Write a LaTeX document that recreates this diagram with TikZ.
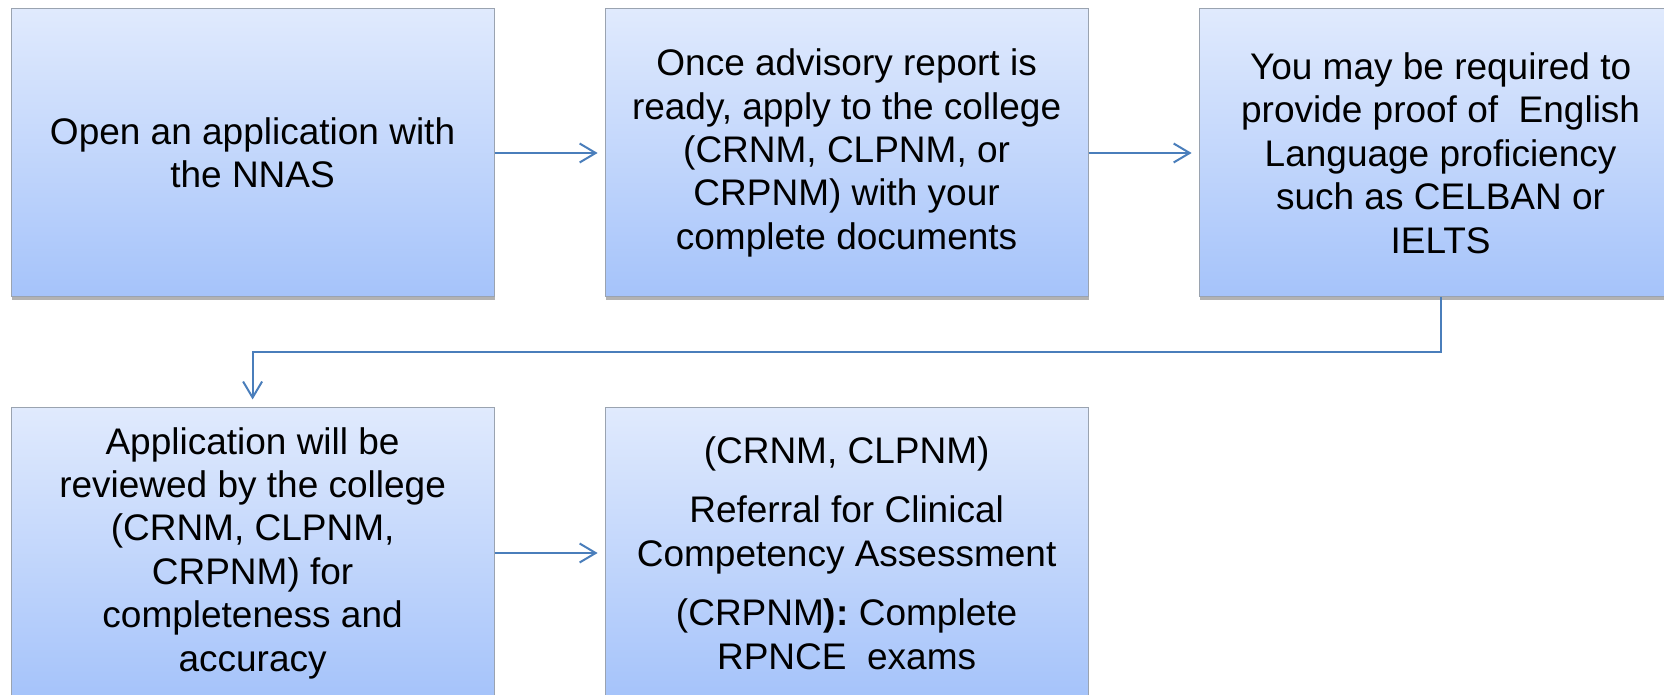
\documentclass[tikz,border=0pt]{standalone}
\usepackage{fontspec}
\setmainfont{Liberation Sans}
\usepackage{tikz}
\usetikzlibrary{positioning,arrows.meta,shadows}

\definecolor{boxtop}{HTML}{E0EAFD}
\definecolor{boxbottom}{HTML}{A5C3FA}
\definecolor{boxline}{HTML}{9AA3B0}
\definecolor{flowblue}{HTML}{4A7EBB}

\tikzset{
    stepbox/.style={rectangle, draw=boxline, line width=0.5pt,
        top color=boxtop, bottom color=boxbottom,
        minimum width=241.5pt, minimum height=144pt, align=center,
        font=\fontsize{18.5}{21.7}\selectfont,
        drop shadow={shadow xshift=0.6pt, shadow yshift=-1.6pt, opacity=.3, fill=black}},
    flow/.style={draw=flowblue, line width=1pt,
        -{Straight Barb[length=8pt,width=9.5pt,line width=1pt]}}
}

\begin{document}
\begin{tikzpicture}[node distance=55pt]
    \node[stepbox] (open) {Open an application with\\the NNAS};
    \node[stepbox, right=of open] (apply) {Once advisory report is\\ready, apply to the college\\(CRNM, CLPNM, or\\CRPNM) with your\\complete documents};
    \node[stepbox, right=of apply] (english) {You may be required to\\provide proof of\ \ English\\Language proficiency\\such as CELBAN or\\IELTS};
    \node[stepbox, minimum height=145pt, below=of open] (review) {Application will be\\reviewed by the college\\(CRNM, CLPNM,\\CRPNM) for\\completeness and\\accuracy};
    \node[stepbox, minimum height=145pt, right=of review] (referral) {(CRNM, CLPNM)\\[8pt]Referral for Clinical\\Competency Assessment\\[8pt](CRPNM\textbf{):} Complete\\RPNCE\ \ exams};

    \draw[flow, shorten >=3.5pt] (open) -- (apply);
    \draw[flow, shorten >=3.5pt] (apply) -- (english);
    \draw[flow, shorten >=3.5pt] (review) -- (referral);
    \draw[flow, shorten >=4pt] (english.south) |- ([yshift=27.75pt]review.north) -- (review.north);

    \pgfresetboundingbox
    \useasboundingbox ([xshift=-5.3pt,yshift=4.25pt]open.north west) rectangle ++(832pt,-347.5pt);
\end{tikzpicture}
\end{document}
